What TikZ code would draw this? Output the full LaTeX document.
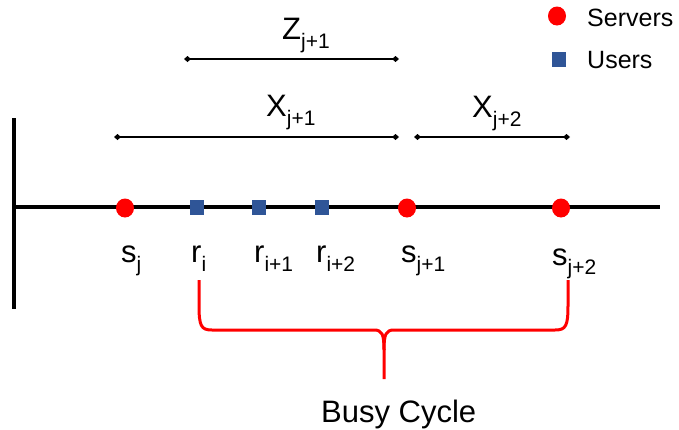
\documentclass[tikz,border=0pt]{standalone}
\usepackage{fontspec}
\setmainfont{Liberation Sans}
\usetikzlibrary{arrows.meta,shapes.geometric}
\definecolor{srvred}{HTML}{FF0000}
\definecolor{usrblue}{HTML}{2F5597}
% label with a lowered index
\newcommand{\lbl}[2]{#1\raisebox{-9pt}{\fontsize{21}{21}\selectfont #2}}
\begin{document}
\begin{tikzpicture}[x=1pt, y=-1pt,
    every node/.style={font=\fontsize{31}{31}\selectfont, inner sep=0pt},
    server/.style={ellipse, fill=srvred, minimum width=18pt, minimum height=19pt},
    user/.style={rectangle, fill=usrblue, minimum width=14pt, minimum height=15pt},
    dimline/.style={line width=2.5pt, {Diamond[length=7pt,width=6pt]}-{Diamond[length=7pt,width=6pt]}},
    legend/.style={font=\fontsize{25}{25}\selectfont, anchor=base west}]
        \useasboundingbox (0,0) rectangle (679,429);
        % axis
        \draw[line width=4pt] (14,118) -- (14,309);
        \draw[line width=4pt] (14,207) -- (660,207);
        \foreach \name/\x in {sj/125, sk/407, sl/561} {
            \node[server] (\name) at (\x,208) {};
        }
        \foreach \name/\x in {ri/197, rii/259, riii/322} {
            \node[user] (\name) at (\x,207) {};
        }
        \node[anchor=base west] (lsj)   at (121,262) {\lbl{s}{j}};
        \node[anchor=base west] (lri)   at (191,262) {\lbl{r}{i}};
        \node[anchor=base west] (lrii)  at (254,262) {\lbl{r}{i+1}};
        \node[anchor=base west] (lriii) at (316,262) {\lbl{r}{i+2}};
        \node[anchor=base west] (lsk)   at (401,262) {\lbl{s}{j+1}};
        \node[anchor=base west] (lsl)   at (552,265) {\lbl{s}{j+2}};
        % distances
        \coordinate (za) at (184,59);  \coordinate (zb) at (399,59);
        \coordinate (xa) at (114,137); \coordinate (xb) at (399,137);
        \coordinate (ya) at (414,137); \coordinate (yb) at (570,137);
        \draw[dimline] (za) -- (zb);
        \draw[dimline] (xa) -- (xb);
        \draw[dimline] (ya) -- (yb);
        \node[anchor=base west] (lz)  at (282,39)  {\lbl{Z}{j+1}};
        \node[anchor=base west] (lx1) at (266,116) {\lbl{X}{j+1}};
        \node[anchor=base west] (lx2) at (472,117) {\lbl{X}{j+2}};
        % busy cycle brace
        \coordinate (bl) at (199,280);
        \coordinate (br) at (568,280);
        \coordinate (bm) at (384,379);
        \draw[srvred, line width=3pt, line join=round]
            (bl) -- (199,305) .. controls (199,326) and (201,330) .. (212,330)
            -- (374,330) .. controls (382,330) and (384,334) .. (384,350) -- (bm);
        \draw[srvred, line width=3pt, line join=round]
            (br) -- (568,305) .. controls (568,326) and (566,330) .. (555,330)
            -- (394,330) .. controls (386,330) and (384,334) .. (384,350);
        \node[anchor=base west] (busy) at (321,422) {Busy Cycle};
        % legend
        \node[server] (legs) at (557,16) {};
        \node[user]   (legu) at (559,59) {};
        \node[legend] (legst) at (587,26) {Servers};
        \node[legend] (legut) at (587,68) {Users};
    \end{tikzpicture}
\end{document}
